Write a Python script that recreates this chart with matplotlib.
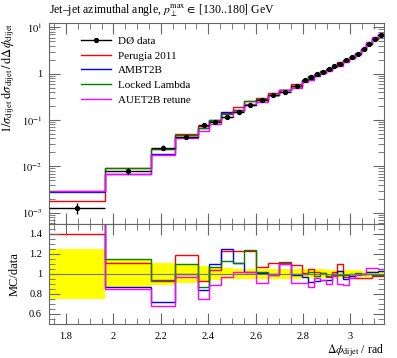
import numpy as np
import matplotlib
matplotlib.use('Agg')
import matplotlib.pyplot as plt
from matplotlib.lines import Line2D
from matplotlib.ticker import FixedLocator, MultipleLocator, LogLocator, NullFormatter

plt.rcParams['font.family'] = ['Liberation Serif', 'DejaVu Serif']
plt.rcParams['mathtext.fontset'] = 'stix'

# bin edges of delta phi, in units of pi
edges_pi = [0.55, 0.625, 0.6875, 0.71875, 0.75, 0.765625, 0.78125, 0.796875,
            0.8125, 0.828125, 0.84375, 0.859375, 0.875, 0.890625, 0.8984375,
            0.90625, 0.9140625, 0.921875, 0.9296875, 0.9375, 0.9453125,
            0.953125, 0.9609375, 0.96875, 0.9765625, 0.984375, 0.9921875, 1.0]

# D0 data, 1/sigma dsigma/ddphi
data = [1.28e-3, 8.1e-3, 0.0254, 0.0425, 0.0783, 0.0923, 0.118, 0.152, 0.212,
        0.272, 0.348, 0.398, 0.546, 0.724, 0.853, 0.975, 1.11, 1.27, 1.45,
        1.65, 1.96, 2.27, 2.72, 3.38, 4.47, 5.73, 6.89]
data_relerr = [0.25, 0.14, 0.11, 0.09, 0.08, 0.065, 0.055, 0.05, 0.05, 0.05,
               0.05, 0.05, 0.05, 0.045, 0.045, 0.045, 0.045, 0.04, 0.04, 0.04,
               0.04, 0.035, 0.035, 0.03, 0.03, 0.03, 0.03]

# MC / data ratios
perugia_ratio = [1.40, 1.11, 0.925, 1.19, 0.925, 1.04, 1.225, 1.225, 1.225,
                 1.07, 1.11, 1.12, 1.085, 1.01, 1.045, 1.02, 1.01, 0.965,
                 1.02, 1.10, 0.97, 0.975, 0.955, 0.955, 0.955, 0.975, 0.98]
ambt2b_ratio = [2.19, 0.865, 0.72, 1.0, 0.84, 1.095, 1.25, 1.105, 1.015,
                1.01, 1.0, 1.10, 0.985, 0.97, 0.92, 0.93, 0.935, 0.94,
                1.0, 1.03, 0.95, 0.98, 1.0, 1.0, 1.02, 1.02, 1.03]
locked_ratio = [2.27, 1.15, 0.94, 1.095, 0.865, 1.07, 1.125, 1.105, 1.235,
                1.02, 0.99, 1.11, 0.995, 1.0, 1.02, 0.975, 1.005, 0.975,
                0.985, 0.985, 0.99, 1.0, 1.01, 1.0, 1.0, 0.99, 0.985]
auet2b_ratio = [2.34, 0.845, 0.675, 0.965, 0.745, 0.89, 0.97, 1.015, 1.02,
                0.91, 0.985, 1.10, 0.91, 0.91, 0.87, 0.955, 0.94, 0.90,
                0.98, 0.895, 0.89, 0.96, 0.99, 1.0, 1.06, 1.06, 1.05]

labels = ['Perugia 2011', 'AMBT2B', 'Locked Lambda', 'AUET2B retune']
colors = ['red', 'blue', 'green', 'magenta']

main_yticks = [1e-3, 1e-2, 1e-1, 1, 10]
main_yticklabels = ['$10^{-3}$', '$10^{-2}$', '$10^{-1}$', '1', '$10^{1}$']
ratio_yticks = [0.6, 0.8, 1.0, 1.2, 1.4]
ratio_yticklabels = ['0.6', '0.8', '1', '1.2', '1.4']
xticks = [1.8, 2.0, 2.2, 2.4, 2.6, 2.8, 3.0]
xticklabels = ['1.8', '2', '2.2', '2.4', '2.6', '2.8', '3']

edges = np.array(edges_pi) * np.pi
centers = 0.5 * (edges[1:] + edges[:-1])
halfw = 0.5 * (edges[1:] - edges[:-1])
data = np.array(data)
derr = np.array(data_relerr)
ratios = [np.array(r) for r in (perugia_ratio, ambt2b_ratio, locked_ratio, auet2b_ratio)]

axcol = '0.4'

fig = plt.figure(figsize=(3.97, 3.58), dpi=100)
ax = fig.add_axes([0.1234, 0.3743, 0.8436, 0.5615])
rax = fig.add_axes([0.1234, 0.095, 0.8436, 0.2793], sharex=ax)

# main panel
for r, c in zip(ratios, colors):
    ax.stairs(data * r, edges, color=c, lw=1.0, baseline=None)
ax.errorbar(centers, data, xerr=halfw, yerr=data * derr, fmt='o', ms=2.8,
            color='black', lw=1.0, capsize=0, zorder=5)
ax.set_yscale('log')
ax.set_ylim(5.7e-4, 12.4)
ax.set_xlim(edges[0], edges[-1])
ax.yaxis.set_major_locator(FixedLocator(main_yticks))
ax.set_yticklabels(main_yticklabels)
ax.yaxis.set_minor_locator(LogLocator(base=10, subs=np.arange(2, 10)))
ax.yaxis.set_minor_formatter(NullFormatter())
ax.set_ylabel(r'$1/\sigma_{\mathrm{dijet}}\;\mathrm{d}\sigma_{\mathrm{dijet}}\,/\,\mathrm{d}\Delta\phi_{\mathrm{dijet}}$',
              loc='top', fontsize=9, labelpad=3)
plt.setp(ax.get_xticklabels(), visible=False)

handles = [Line2D([], [], color='black', marker='o', ms=2.8, lw=1.0)]
handles += [Line2D([], [], color=c, lw=1.0) for c in colors]
ax.legend(handles, ['DØ data'] + labels, loc='upper left', frameon=False,
          bbox_to_anchor=(0.097, 0.935), borderaxespad=0, borderpad=0,
          fontsize=8, handlelength=2.7, handletextpad=0.6, labelspacing=0.45)

fig.text(0.1234, 0.9645,
         r'Jet–jet azimuthal angle, $p_\perp^{\mathrm{max}} \in$ [130..180] GeV',
         ha='left', va='baseline', fontsize=8.5)

# ratio panel
rax.stairs(1 + derr, edges, baseline=1 - derr, fill=True, color='yellow', lw=0)
rax.axhline(1.0, color='0.45', lw=0.8)
for r, c in zip(ratios, colors):
    rax.stairs(r, edges, color=c, lw=1.0, baseline=None)
rax.set_ylim(0.5, 1.5)
rax.yaxis.set_major_locator(FixedLocator(ratio_yticks))
rax.set_yticklabels(ratio_yticklabels)
rax.yaxis.set_minor_locator(MultipleLocator(0.05))
rax.xaxis.set_major_locator(FixedLocator(xticks))
rax.set_xticklabels(xticklabels)
rax.xaxis.set_minor_locator(MultipleLocator(0.05))
rax.set_ylabel('MC/data', fontsize=9, labelpad=6)
rax.set_xlabel(r'$\Delta\phi_{\mathrm{dijet}}$ / rad', loc='right', fontsize=8.5, labelpad=1)

for a in (ax, rax):
    a.tick_params(which='both', direction='in', top=True, right=True,
                  color=axcol, labelsize=7.5)
    a.tick_params(which='major', length=8, width=0.8, pad=5)
    a.tick_params(which='minor', length=4, width=0.6)
    for s in a.spines.values():
        s.set_color(axcol)
        s.set_linewidth(0.8)
rax.tick_params(axis='x', which='major', pad=6)

fig.savefig('out.png', dpi=100)
